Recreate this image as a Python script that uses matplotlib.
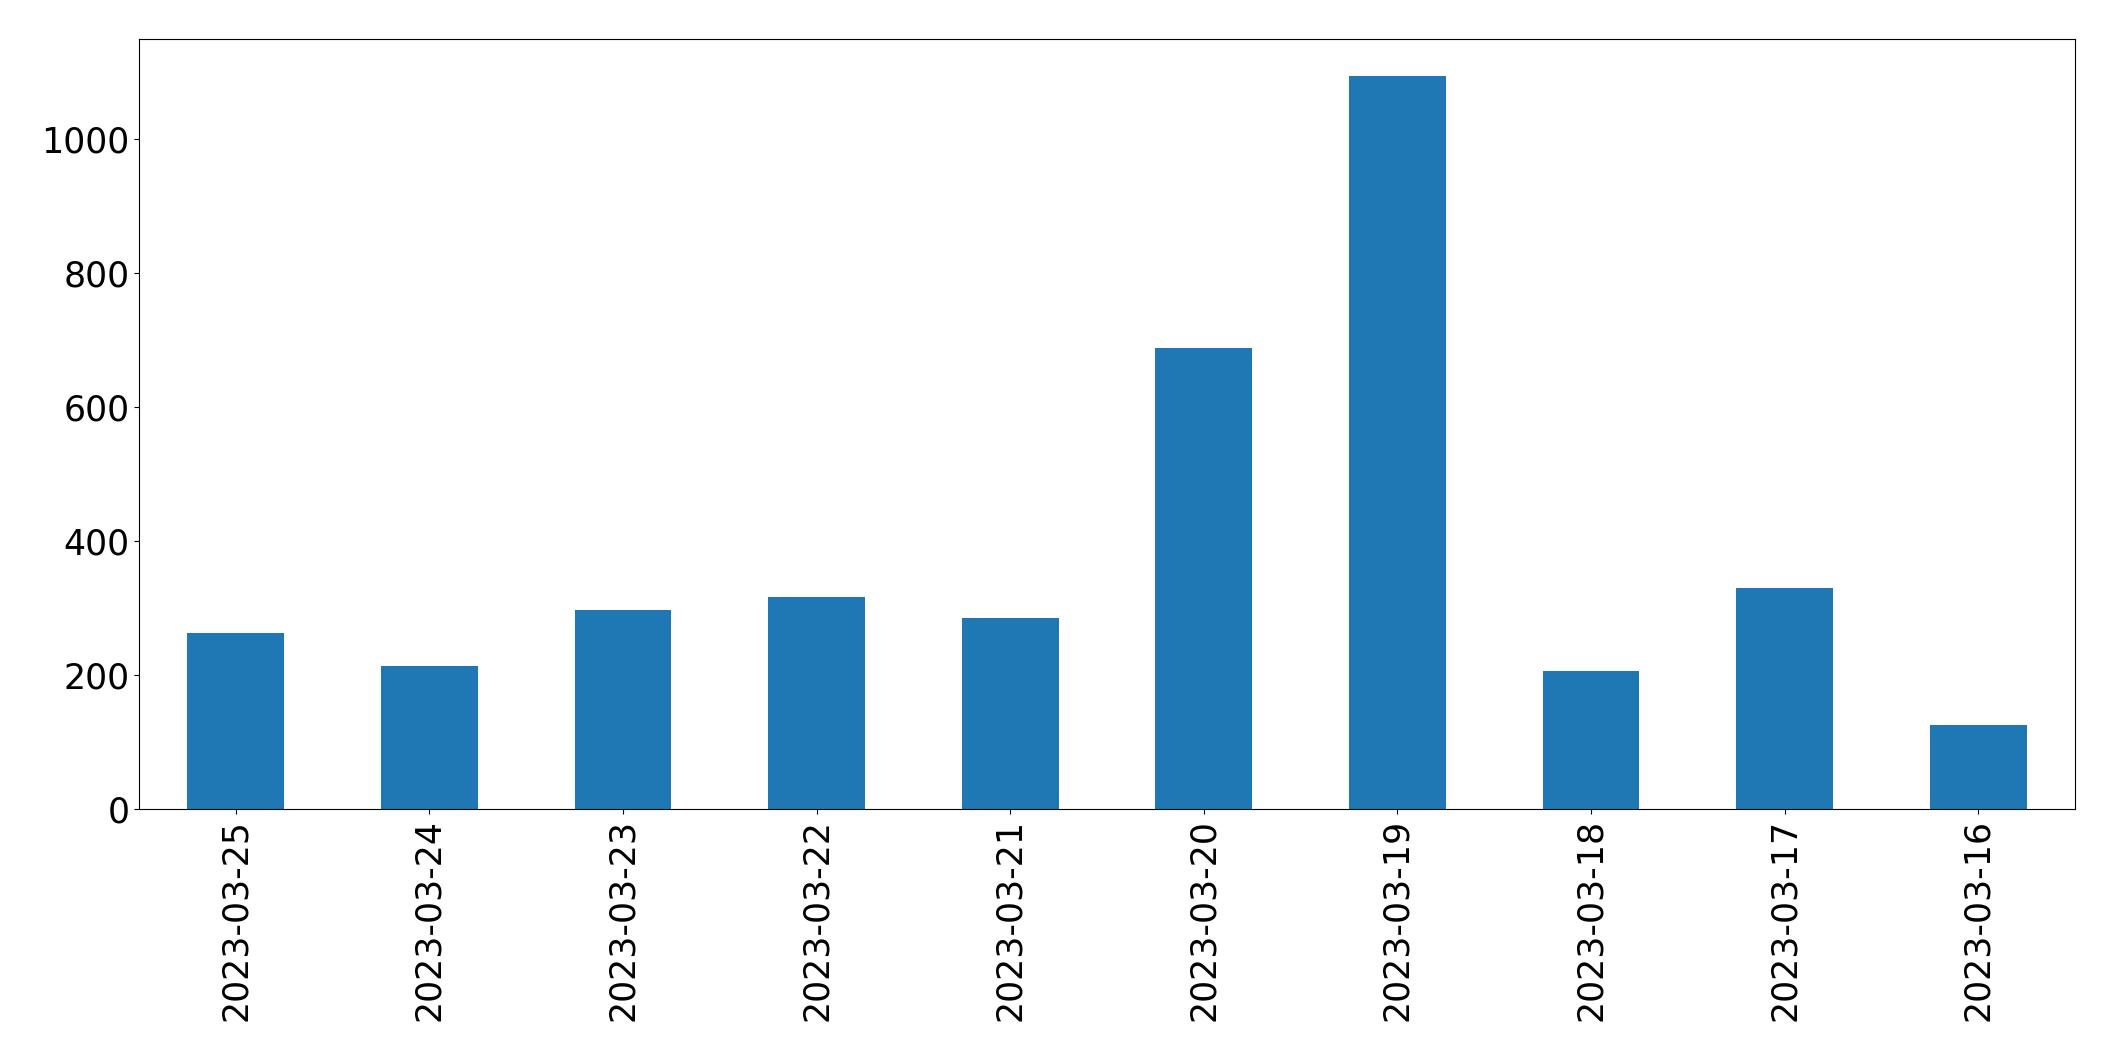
import matplotlib
matplotlib.use("Agg")
import matplotlib.pyplot as plt
import pandas as pd

# daily counts, newest first (as in the original plot)
dates = ["2023-03-25", "2023-03-24", "2023-03-23", "2023-03-22", "2023-03-21",
         "2023-03-20", "2023-03-19", "2023-03-18", "2023-03-17", "2023-03-16"]
counts = [262, 213, 297, 316, 285, 687, 1094, 206, 330, 126]

s = pd.Series(counts, index=dates)

fig = plt.figure(figsize=(21.15, 10.61), dpi=100)
ax = fig.add_axes([139 / 2115, 1 - 809 / 1061, (2075 - 139) / 2115, (809 - 39) / 1061])
s.plot(kind="bar", ax=ax, color="#1f77b4", rot=90, fontsize=25)

fig.savefig("out.png", dpi=100)
